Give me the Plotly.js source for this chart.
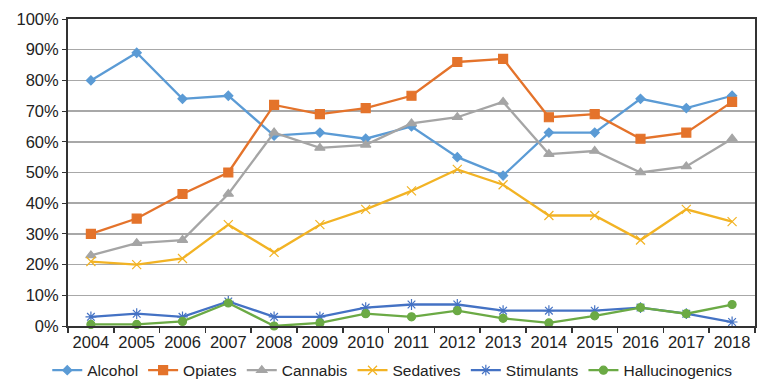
<!DOCTYPE html>
<html><head><meta charset="utf-8">
<script src="https://cdn.plot.ly/plotly-3.0.1.min.js"></script>
<style>html,body{margin:0;padding:0;background:#fff}#chart{width:772px;height:391px}</style>
</head><body><div id="chart"></div>
<script>
const years = ["2004","2005","2006","2007","2008","2009","2010","2011","2012","2013","2014","2015","2016","2017","2018"];
const alcohol = [80, 89, 74, 75, 62, 63, 61, 65, 55, 49, 63, 63, 74, 71, 75];
const opiates = [30, 35, 43, 50, 72, 69, 71, 75, 86, 87, 68, 69, 61, 63, 73];
const cannabis = [23, 27, 28, 43, 63, 58, 59, 66, 68, 73, 56, 57, 50, 52, 61];
const sedatives = [21, 20, 22, 33, 24, 33, 38, 44, 51, 46, 36, 36, 28, 38, 34];
const stimulants = [3, 4, 3, 8, 3, 3, 6, 7, 7, 5, 5, 5, 6, 4, 1.3];
const hallucinogenics = [0.5, 0.5, 1.5, 7.5, 0, 1, 4, 3, 5, 2.5, 1, 3.3, 6, 4, 7];
const yTicks = [0,10,20,30,40,50,60,70,80,90,100];

function tr(name, y, color, symbol, size) {
  return {
    type: 'scatter', mode: 'lines+markers', name: name, x: years, y: y.map(v => v/100),
    line: {color: color, width: 2.3},
    marker: {symbol: symbol, size: size, color: color, line: {color: color, width: 1.2}},
    cliponaxis: false
  };
}
const data = [
  tr('Alcohol', alcohol, '#5B9BD5', 'diamond', 7),
  tr('Opiates', opiates, '#E4732B', 'square', 9),
  tr('Cannabis', cannabis, '#A5A5A5', 'triangle-up', 9),
  tr('Sedatives', sedatives, '#F2B324', 'x-thin-open', 9),
  tr('Stimulants', stimulants, '#4472C4', 'asterisk-open', 9),
  tr('Hallucinogenics', hallucinogenics, '#6BAA45', 'circle', 8)
];
const layout = {
  width: 772, height: 391,
  margin: {l: 68, r: 17, t: 19, b: 65, autoexpand: false},
  paper_bgcolor: '#fff', plot_bgcolor: '#fff',
  font: {family: 'Liberation Sans, Arial, sans-serif', size: 16, color: '#222'},
  showlegend: true,
  legend: {orientation: 'h', x: 0.472, xanchor: 'center', y: -0.09, yanchor: 'top',
           font: {size: 15.5, color: '#222'}, itemwidth: 30, tracegroupgap: 0},
  xaxis: {type: 'category', range: [-0.5, 14.5], showgrid: false, showline: true,
          linecolor: '#333', linewidth: 2, mirror: true, ticks: 'outside', tickson: 'boundaries',
          ticklen: 5, tickcolor: '#333', tickwidth: 1.5, tickangle: 0, tickfont: {size: 16.5}, fixedrange: true},
  yaxis: {range: [0, 1], tickvals: yTicks.map(v => v/100), ticktext: yTicks.map(v => v + '%'),
          showgrid: true, gridcolor: '#A8A8A8', gridwidth: 1.5, showline: true, linecolor: '#333',
          linewidth: 2, mirror: true, ticks: 'outside', ticklen: 4, tickcolor: '#333',
          tickfont: {size: 16.5}, zeroline: false, fixedrange: true}
};
Plotly.newPlot('chart', data, layout, {displayModeBar: false, staticPlot: true});
</script></body></html>
